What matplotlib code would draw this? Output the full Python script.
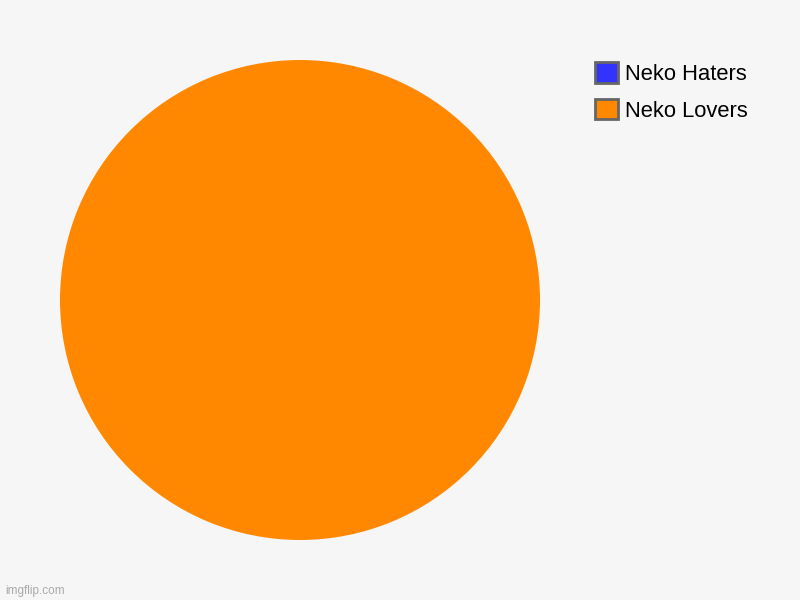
import matplotlib.pyplot as plt
from matplotlib.patches import Patch

labels = ['Neko Haters', 'Neko Lovers']
values = [0, 100]
colors = ['#3333ff', '#ff8800']

bg = '#f6f6f6'
plt.rcParams['font.family'] = ['Liberation Sans', 'DejaVu Sans']

fig = plt.figure(figsize=(8, 6), dpi=100, facecolor=bg)
ax = fig.add_axes([0.075, 0.1, 0.6, 0.8])
ax.set_facecolor(bg)
ax.pie(values, colors=colors, startangle=90, counterclock=False,
       radius=1, wedgeprops={'linewidth': 0})
ax.set_xlim(-1, 1)
ax.set_ylim(-1, 1)
ax.set_aspect('equal')

handles = [Patch(facecolor=c, edgecolor='#666666', linewidth=2) for c in colors]
leg = fig.legend(handles, labels, loc='upper left', bbox_to_anchor=(0.744, 0.896),
                 frameon=False, fontsize=15.8, handlelength=1.05, handleheight=1.05,
                 handletextpad=0.32, labelspacing=0.64, borderaxespad=0, borderpad=0)

fig.text(0.006, 0.01, 'imgflip.com', fontsize=8.5, color='#aaaaaa')

fig.savefig('out.png', dpi=100, facecolor=bg)
